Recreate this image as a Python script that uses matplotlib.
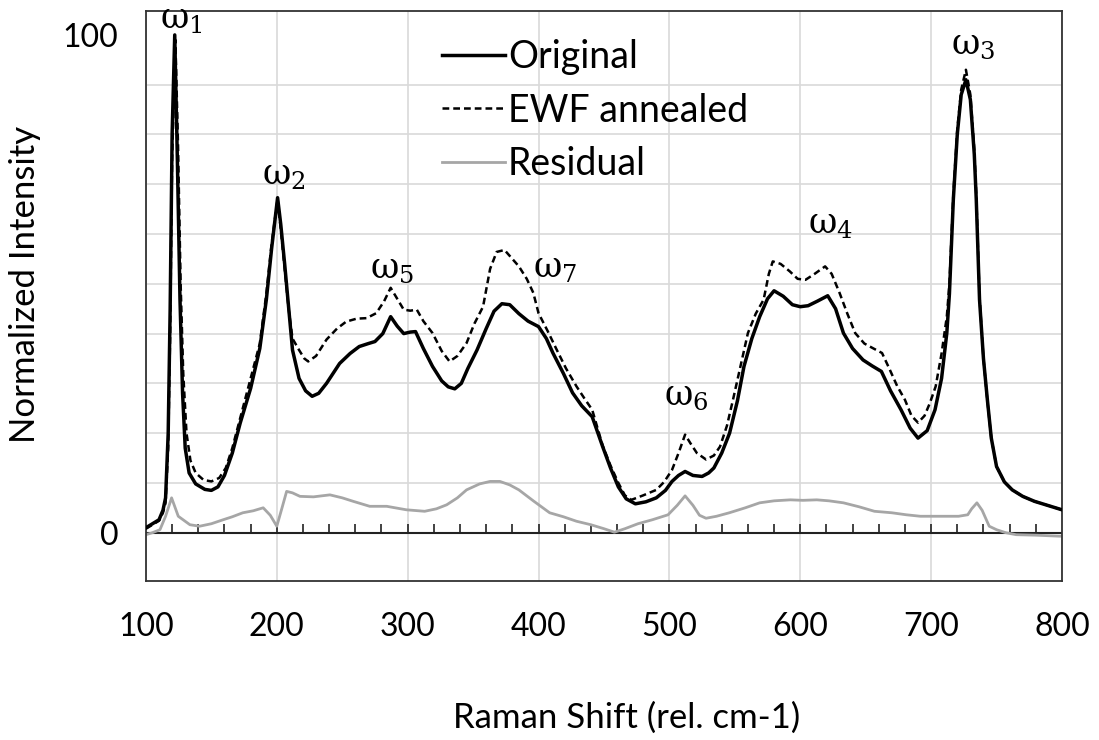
import numpy as np
import matplotlib
matplotlib.use("Agg")
import matplotlib.pyplot as plt
from matplotlib.patches import Rectangle

plt.rcParams['font.family'] = ['Lato', 'DejaVu Sans']
plt.rcParams['mathtext.fontset'] = 'custom'
plt.rcParams['mathtext.rm'] = 'DejaVu Serif'

# Raman spectra, normalized to the strongest band (=100)
shift_orig = [100, 105, 110, 113, 115, 117, 118.5, 120, 122, 124, 126, 128, 130, 133, 138, 145,
              150, 155, 160, 166, 172, 180, 187, 192, 196, 200.6, 203, 206, 208.5, 212, 217, 222,
              227, 232, 238, 243, 248, 256, 263, 270, 275, 281, 287, 292, 297, 302, 306, 312,
              319, 326, 331, 336, 341, 346, 353, 360, 366, 372, 378, 385, 392, 400, 406, 411,
              419, 426, 433, 441, 449, 455, 461, 467, 474, 482, 490, 497, 502, 507, 512, 518,
              525, 530, 534, 540, 546, 552, 557, 563, 569, 575, 580, 587, 594, 600, 606, 613,
              621, 627, 633, 640, 648, 655, 662, 669, 677, 684, 690, 697, 703, 708, 712, 714,
              717, 720, 723, 726.6, 730, 733, 734.5, 737, 740, 743, 746, 750, 756, 762, 770,
              779, 789, 798, 800]
original = [1, 1.8, 2.6, 4.5, 7, 20, 45, 80, 100, 75, 47, 28, 17, 12, 9.8, 8.7,
            8.5, 9.2, 11.5, 16, 22, 29, 37, 46.8, 57, 67.3, 62, 54, 46.8, 36.7, 31, 28.5,
            27.4, 28, 30, 32, 34, 36, 37.4, 38, 38.4, 40, 43.4, 41.5, 40, 40.3, 40.4, 37,
            33.4, 30.5, 29.3, 28.9, 30, 33, 36.7, 41, 44.5, 46, 45.8, 44, 42.5, 41.4, 39, 36.1,
            32, 28.1, 25.5, 23.3, 17.3, 13, 9.2, 6.8, 5.8, 6.2, 7.0, 8.5, 10.3, 11.5, 12.3, 11.5,
            11.3, 12, 13, 16, 20, 26.5, 33.4, 39, 43.4, 47, 48.6, 47.5, 45.8, 45.4, 45.6, 46.5,
            47.6, 45, 40.1, 37, 34.7, 33.5, 32.4, 28.5, 24.7, 21, 19, 20.5, 24.7, 31, 40.1, 48,
            67, 80, 88, 91, 87, 76, 67, 46.8, 35, 26.7, 19, 13.3, 10.2, 8.6, 7.3,
            6.3, 5.5, 4.8, 4.6]

shift_ewf = [100, 105, 110, 113, 115, 117, 118.5, 120, 122.5, 124.5, 126.5, 128.5, 131, 134, 138,
             144, 150, 156, 161, 166, 172, 180, 187, 192, 196, 200.6, 203, 206, 209, 212, 217,
             221, 224, 230, 238, 246, 253, 261, 268.6, 276, 282, 287, 292, 297, 302, 307, 312,
             319, 326, 332, 338, 345, 351, 357.6, 363, 368, 374, 380, 385, 391, 396, 400, 407,
             414, 421, 429, 435, 441, 449, 455, 461, 466, 471, 480, 490, 496, 502, 507, 512,
             516, 521, 528, 534, 538.7, 544, 548.6, 554, 560, 566, 572, 576, 579, 585, 592,
             598, 604, 611, 619, 624, 630, 636, 642, 649, 656, 662.5, 668, 674, 680, 685, 690,
             695, 699, 703.5, 708, 712, 714, 717, 720, 723, 726.6, 730, 733, 734.5, 737, 740,
             743, 746, 750, 756, 762, 770, 779, 789, 798, 800]
ewf_annealed = [0.8, 1.6, 2.4, 4, 6, 17, 40, 75, 99, 78, 50, 32, 20, 14.5, 12,
                10.6, 10.3, 11, 13, 17, 23, 31, 38, 48, 58, 67, 61, 53, 45, 39, 36.7,
                35, 34.4, 35.5, 38.8, 41, 42.4, 43, 43.1, 44.1, 46.5, 49.2, 47, 44.8, 44.6, 44.8, 42.5,
                40.1, 36.5, 34.4, 35.5, 38.1, 42, 45.4, 53, 56.4, 56.8, 55, 53.5, 51, 48.2, 44.1, 40.5,
                36.7, 33, 29.4, 27, 24.7, 17.5, 13.5, 10, 7.5, 6.6, 7.5, 8.6, 10.2, 12.6, 16, 19.7,
                18, 16, 14.7, 15.5, 17.3, 21.5, 26.7, 33, 40.1, 44, 46.8, 52, 54.5, 54, 52.5,
                51, 50.8, 52, 53.5, 52, 48.2, 44, 40.1, 38, 37, 36.1, 33, 29.5, 26.7, 23.5, 22.1,
                23.5, 26, 29.4, 36, 43.4, 50, 68, 81, 89, 93, 88, 77, 68, 47.5, 35,
                26.5, 19, 13.3, 10.2, 8.6, 7.3, 6.3, 5.5, 4.8, 4.6]

shift_res = [100, 105, 110.7, 115, 119.6, 124.7, 133.6, 141, 150, 159, 166, 174, 182, 189.6, 195,
             200, 204, 207.5, 212, 217.7, 228, 240.6, 250, 258.4, 271, 284, 299, 313, 322,
             329.8, 338, 345, 355, 363, 370.5, 378, 385, 396, 408.5, 419, 429, 440, 450, 458,
             466, 476, 487, 499, 506, 512, 518, 523, 528, 536, 545.8, 558, 569, 580, 592.5,
             602, 612.6, 622, 633, 645, 656.7, 670, 681, 691.8, 705, 721, 728, 731, 735,
             739, 744.4, 750, 757, 765, 780, 798, 800]
residual = [-0.4, 0, 0.6, 3.3, 7.0, 3.3, 1.6, 1.3, 1.8, 2.6, 3.2, 4.0, 4.4, 5.0, 3.5,
            1.3, 5, 8.3, 8, 7.3, 7.2, 7.6, 7.0, 6.3, 5.3, 5.3, 4.6, 4.3, 4.8,
            5.6, 7, 8.6, 9.8, 10.3, 10.3, 9.6, 8.6, 6.4, 4.0, 3.2, 2.3, 1.6, 0.8, 0.1,
            0.8, 1.8, 2.6, 3.6, 5.5, 7.4, 5.5, 3.5, 2.9, 3.3, 4.0, 5.0, 6.0, 6.4, 6.6,
            6.5, 6.6, 6.4, 6.0, 5.2, 4.3, 4.0, 3.6, 3.3, 3.3, 3.3, 3.6, 4.8, 6.0,
            4.5, 1.3, 0.6, 0, -0.4, -0.5, -0.7, -0.7]

# band labels: (text, x, y)
band_labels = [(r'$\mathrm{ω_1}$', 110.7, 101.4),
               (r'$\mathrm{ω_2}$', 188.6, 69.9),
               (r'$\mathrm{ω_5}$', 271.2, 51.4),
               (r'$\mathrm{ω_7}$', 395.4, 51.4),
               (r'$\mathrm{ω_6}$', 496.2, 25.7),
               (r'$\mathrm{ω_4}$', 605.6, 60.2),
               (r'$\mathrm{ω_3}$', 715.2, 96.4)]

fig = plt.figure(figsize=(10.99, 7.4), dpi=100)
ax = fig.add_axes([0.1328, 0.2149, 0.8335, 0.7702])

ax.plot(shift_orig, original, color='black', lw=2.5, label='Original', zorder=4)
ax.plot(shift_ewf, ewf_annealed, color='black', lw=1.8, dashes=(2.7, 1.6),
        label='EWF annealed', zorder=3)
ax.plot(shift_res, residual, color='#a6a6a6', lw=2.0, label='Residual', zorder=2)

ax.set_xlim(100, 800)
ax.set_ylim(-9.7, 104.8)

# gridlines
ax.set_xticks(range(100, 801, 100))
ax.set_yticks(range(0, 101, 10), minor=True)
ax.set_yticks([0, 100])
ax.grid(True, which='major', axis='x', color='#d9d9d9', lw=1.2, zorder=0)
ax.grid(True, which='minor', axis='y', color='#d9d9d9', lw=1.2, zorder=0)
ax.set_axisbelow(True)
ax.tick_params(axis='x', length=0, pad=22, labelsize=23)
ax.tick_params(axis='y', length=0, pad=20, labelsize=23)
ax.tick_params(which='minor', length=0)
for s in ax.spines.values():
    s.set_color('#333333')
    s.set_linewidth(1.3)

# axis line through zero with small upward ticks
ax.axhline(0, color='#222222', lw=1.5, zorder=1)
ax.vlines(np.arange(120, 800, 20), 0, 1.8, color='#222222', lw=1.2, zorder=1)

ax.set_xlabel('Raman Shift (rel. cm-1)', fontsize=25, va='center')
ax.set_ylabel('Normalized Intensity', fontsize=25, va='center')
ax.xaxis.set_label_coords(0.525, -0.240)
ax.yaxis.set_label_coords(-0.132, 0.521)

# white area behind the legend
ax.add_patch(Rectangle((0.168, 0.686), 0.644, 0.289, transform=ax.transAxes,
                       facecolor='white', edgecolor='none', zorder=0.5))
ax.legend(loc='upper left', bbox_to_anchor=(0.323, 0.951), frameon=False,
          fontsize=27, handlelength=1.68, handletextpad=0.08, labelspacing=0.47,
          borderpad=0, borderaxespad=0)

for txt, x, y in band_labels:
    ax.text(x, y, txt, fontsize=25, ha='left', va='baseline', zorder=5)

fig.savefig('out.png', dpi=100)
